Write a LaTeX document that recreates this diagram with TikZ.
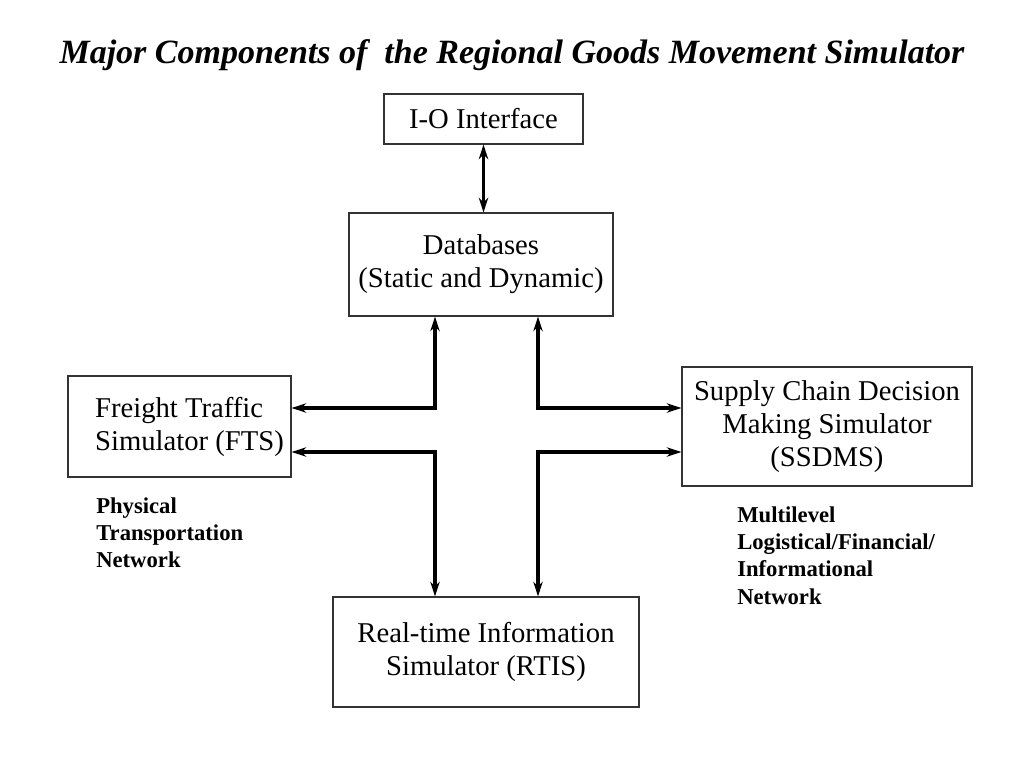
\documentclass[tikz,border=0pt]{standalone}
\usepackage{fontspec}
\setmainfont{Liberation Serif}
\usetikzlibrary{arrows.meta, calc, positioning}

\begin{document}
\begin{tikzpicture}[x=0.75pt,y=-0.75pt,
   box/.style={draw=black!80,line width=0.8pt,align=center,inner sep=0pt,
               font=\fontsize{21.5}{24.75}\selectfont},
   link/.style={line width=2.5pt,{Stealth[length=11pt,width=7pt,inset=3.5pt]}-{Stealth[length=11pt,width=7pt,inset=3.5pt]}},
   note/.style={align=left,inner sep=0pt,anchor=north west,
               font=\fontsize{17}{20.5}\selectfont\bfseries}]
   \useasboundingbox (0,0) rectangle (1024,768);
   \node (title) at (512,55) {\fontsize{25.5}{28}\selectfont\bfseries\itshape Major Components of\ \ the Regional Goods Movement Simulator};
   \node[box,minimum width=149.25pt,minimum height=37.5pt] (io) at (483.5,119) {I-O Interface};
   \node[box,minimum width=198pt,minimum height=77.25pt] (db) at (481,264.5) {Databases\\(Static and Dynamic)};
   \node[box,minimum width=167.25pt,minimum height=75.75pt,align=left] (fts) at (179.5,426.5) {\hspace*{15pt}Freight Traffic\\\hspace*{15pt}Simulator (FTS)};
   \node[box,minimum width=217.5pt,minimum height=89.25pt] (ssdms) at (827,426.5) {Supply Chain Decision\\Making Simulator\\(SSDMS)};
   \node[box,minimum width=229.5pt,minimum height=82.5pt] (rtis) at (486,652) {Real-time Information\\Simulator (RTIS)};
   \node[note] (phys) at (96,497) {Physical\\Transportation\\Network};
   \node[note] (multi) at (737,506) {Multilevel\\Logistical/Financial/\\Informational\\Network};
   % links
   \draw[link] (io.south) -- (io.south |- db.north);
   \draw[link] ($(db.south)+(-46,0)$) |- ($(fts.east)+(0,-18.5)$);
   \draw[link] ($(db.south)+(57,0)$) |- ($(ssdms.west)+(0,-18.5)$);
   \draw[link] ($(fts.east)+(0,25.5)$) -| ($(rtis.north)+(-51,0)$);
   \draw[link] ($(ssdms.west)+(0,25.5)$) -| ($(rtis.north)+(52,0)$);
\end{tikzpicture}
\end{document}
